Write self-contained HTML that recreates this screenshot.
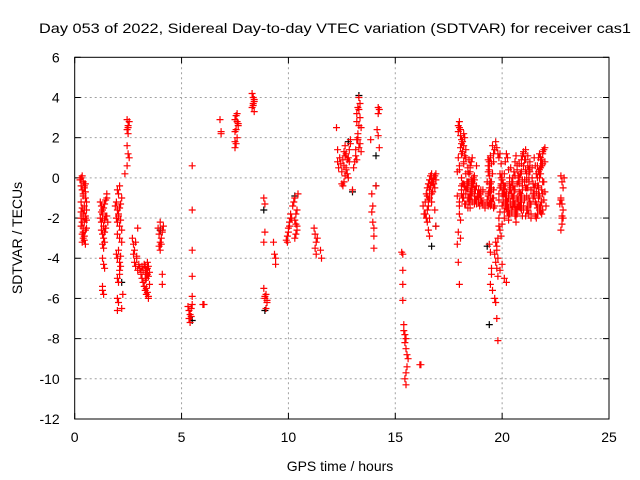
<!DOCTYPE html>
<html><head><meta charset="utf-8"><style>
html,body{margin:0;padding:0;background:#fff;}
svg{display:block;font-family:"Liberation Sans",sans-serif;}
</style></head><body>
<svg id="chart" width="640" height="480" viewBox="0 0 640 480">
<text x="335" y="33" font-size="14" text-anchor="middle" textLength="592" lengthAdjust="spacingAndGlyphs">Day 053 of 2022, Sidereal Day-to-day VTEC variation (SDTVAR) for receiver cas1</text>
<g id="grid"></g>
<g id="axes"></g>
<g id="blackpts"></g>
<g id="redpts"></g>
<rect x="74.7" y="57.3" width="534.3" height="361.7" fill="none" stroke="#000" stroke-width="1"/>
<text x="340" y="471" font-size="14" text-anchor="middle">GPS time / hours</text>
<text x="0" y="0" font-size="14" text-anchor="middle" transform="translate(22,238) rotate(-90)">SDTVAR / TECUs</text>
</svg>
<script>
const xTicks = [0, 5, 10, 15, 20, 25];
const yTicks = [6, 4, 2, 0, -2, -4, -6, -8, -10, -12];
const redX = [
0.25,0.3,0.35,0.4,0.45,0.3,0.35,0.4,0.45,0.5,0.3,0.35,0.4,0.45,0.5,0.55,0.3,0.35,0.4,0.5,0.55,0.3,0.4,0.45,0.5,0.35,0.4,0.45,0.5,0.55,0.35,0.45,0.5,0.3,0.4,0.45,0.55,0.5,0.45,0.4,
1.2,1.25,1.3,1.35,1.4,1.45,1.5,1.2,1.25,1.3,1.35,1.4,1.45,1.25,1.3,1.35,1.4,1.45,1.3,1.35,1.4,1.3,1.35,1.4,1.3,1.3,1.35,1.25,1.3,1.5,1.55,1.5,
1.9,1.95,2.0,2.05,2.1,2.15,2.2,1.95,2.0,2.05,2.1,2.15,2.0,2.05,2.1,2.0,2.1,2.2,2.2,1.95,2.0,2.05,2.1,2.15,2.1,2.0,2.05,2.1,2.15,2.0,2.05,2.2,2.25,2.0,
2.35,2.45,2.5,2.55,2.45,2.5,2.55,2.5,2.45,2.5,2.45,
2.7,2.75,2.8,2.85,2.9,2.75,2.8,2.85,2.9,2.95,3.0,3.05,3.1,3.15,3.2,3.25,3.3,3.35,3.4,3.45,3.1,3.15,3.2,3.25,3.3,3.35,3.2,3.3,3.35,3.4,3.3,3.35,3.4,3.45,3.4,3.45,3.5,3.45,3.5,2.95,
3.9,3.95,4.0,4.05,4.1,3.95,4.0,4.05,4.0,4.1,4.15,4.1,4.1,
5.3,5.35,5.4,5.45,5.5,5.35,5.4,5.45,5.5,5.5,5.5,5.5,5.5,6.0,6.05,
6.8,6.85,6.85,7.5,7.55,7.6,7.65,7.5,7.55,7.6,7.5,7.55,7.6,7.65,7.5,
8.3,8.35,8.4,8.3,8.35,8.4,8.35,8.4,
8.85,8.9,8.85,8.9,8.85,8.95,8.9,9.0,8.95,9.0,8.9,
9.3,9.35,9.4,9.4,
9.9,9.95,10.0,10.05,10.1,10.15,9.95,10.0,10.05,10.1,10.2,10.25,10.3,10.35,10.4,10.3,10.35,10.4,10.45,10.4,10.35,10.3,
11.2,11.25,11.3,11.25,11.3,11.35,11.5,11.55,
12.25,12.3,12.3,12.35,12.4,12.45,12.5,12.55,12.6,12.65,12.7,12.75,12.8,12.5,12.55,12.6,12.65,12.7,12.6,12.65,12.7,12.75,12.8,12.85,12.9,12.9,12.85,13.0,
13.1,13.15,13.2,13.25,13.3,13.35,13.4,13.2,13.25,13.3,13.35,13.25,13.3,13.35,13.4,13.2,13.25,13.3,13.15,13.2,13.05,
13.85,13.9,13.9,13.95,14.0,14.0,14.0,13.95,14.2,14.25,14.2,14.15,14.2,14.25,14.1,
15.3,15.35,15.35,15.35,15.35,15.4,15.4,15.45,15.5,15.5,15.55,15.6,15.55,15.5,15.45,15.5,15.45,16.15,16.2,
16.3,16.35,16.4,16.45,16.5,16.55,16.6,16.65,16.7,16.75,16.8,16.85,16.5,16.55,16.6,16.65,16.7,16.4,16.45,16.5,16.55,16.6,16.5,16.55,16.6,16.7,16.75,16.8,16.85,16.9,16.9,16.7,16.85,16.9,16.6,
17.9,17.95,18.0,18.05,18.1,18.15,18.2,17.95,18.0,18.05,18.1,18.15,17.9,17.95,18.0,18.05,18.1,18.2,18.25,18.3,18.35,18.4,18.45,18.5,18.55,18.2,18.25,18.3,18.35,18.4,18.45,18.5,18.55,18.6,18.65,18.7,18.75,18.8,18.85,18.9,18.95,19.0,19.05,19.1,18.1,18.15,18.3,18.4,18.6,18.7,18.8,18.9,19.0,18.0,18.2,18.5,18.7,19.2,
19.3,19.35,19.4,19.45,19.5,19.55,19.6,19.65,19.7,19.75,19.8,19.35,19.4,19.45,19.5,19.55,19.6,19.3,19.35,19.4,19.45,19.5,19.55,19.6,19.3,19.35,19.4,19.45,19.4,19.45,19.5,19.5,19.45,19.55,
19.65,19.7,19.75,19.8,19.85,19.9,19.7,19.75,19.8,19.85,19.65,19.7,19.75,19.8,19.9,19.95,19.75,19.8,
19.9,20.0,20.1,20.2,20.3,20.4,20.5,20.6,20.7,20.8,20.9,21.0,21.1,21.2,21.3,21.4,
19.9,20.0,20.1,20.2,20.3,20.4,20.5,20.6,20.7,20.8,20.9,21.0,21.1,21.2,21.3,21.4,
19.95,20.05,20.15,20.25,20.35,20.45,20.55,20.65,20.75,20.85,20.95,21.05,21.15,21.25,21.35,21.45,
19.95,20.05,20.15,20.25,20.35,20.45,20.55,20.65,20.75,20.85,20.95,21.05,21.15,21.25,21.35,21.45,
20.0,20.1,20.2,20.3,20.4,20.5,20.6,20.7,20.8,20.9,21.0,21.1,21.2,21.3,
20.05,20.15,20.3,20.45,20.6,20.75,20.9,21.05,21.2,21.35,20.6,20.65,20.7,20.2,20.3,20.0,20.1,
21.5,21.55,21.6,21.65,21.7,21.75,21.8,21.85,21.9,21.95,22.0,21.55,21.6,21.65,21.7,21.75,21.8,21.85,21.9,21.95,22.0,21.6,21.65,21.7,21.75,21.8,21.85,21.9,21.95,21.7,21.8,21.9,22.0,22.05,21.65,21.75,
22.7,22.75,22.8,22.85,22.9,22.75,22.8,22.85,22.75,22.8,22.85,22.8,22.8,22.75,
17.95,18.0,18.05,18.1,18.15,18.2,18.25,17.95,18.0,18.05,18.1,18.15,18.2,18.25,18.3,18.0,18.1,18.2,18.3,18.4,17.9,18.0,18.1,18.2,18.3,18.4,18.5,
18.35,18.4,18.45,18.5,18.55,18.4,18.45,18.5,18.55,18.6,18.45,18.5,18.55,18.6,18.65,18.7,18.75,18.8,18.85,18.9,18.95,19.0,19.1,18.6,18.7,18.8,18.9,19.0,19.1,19.2,
19.3,19.35,19.4,19.45,19.5,19.55,19.6,19.35,19.4,19.45,19.5,19.55,19.4,19.45,19.5,19.55,19.6,19.65,
19.85,19.9,19.95,20.0,20.05,20.1,20.15,20.2,20.25,20.3,20.35,20.4,20.45,20.5,20.55,20.6,20.65,20.7,20.75,20.8,20.85,20.9,20.95,21.0,21.05,21.1,21.15,21.2,21.25,21.3,
19.85,19.9,19.95,20.0,20.05,20.1,20.15,20.2,20.25,20.3,20.35,20.4,20.45,20.5,20.55,20.6,20.65,20.7,20.75,20.8,20.85,20.9,20.95,21.0,21.05,21.1,21.15,21.2,21.25,21.3,
19.85,19.95,20.05,20.15,20.25,20.35,20.45,20.55,20.65,20.75,20.85,20.95,21.05,21.15,21.25,21.35,
21.45,21.5,21.55,21.6,21.65,21.7,21.75,21.8,21.85,21.9,21.5,21.6,21.7,21.8,21.9,21.55,21.65,21.75,21.85
];
const redY = [
-0.1,0,0.1,-0.2,-0.3,-0.4,-0.6,-0.8,-0.5,-0.3,-1.2,-1.5,-1.8,-1.4,-1.0,-1.2,-2.0,-2.2,-2.5,-1.9,-1.6,-2.4,-2.7,-2.2,-2.0,-2.8,-3.0,-2.9,-2.6,-2.5,-3.2,-3.1,-3.3,-1.7,-1.9,-1.6,-2.1,-0.7,-0.4,-0.9,
-1.2,-1.4,-1.6,-1.5,-1.3,-1.1,-1.0,-2.0,-2.2,-2.0,-2.4,-2.1,-1.9,-2.6,-2.8,-3.0,-2.7,-2.5,-3.3,-3.5,-3.2,-4.0,-4.3,-4.5,-5.4,-5.6,-5.8,-1.7,-1.8,-1.9,-2.2,-0.8,
-1.4,-1.2,-1.6,-1.8,-1.5,-1.3,-1.0,-2.0,-2.2,-1.9,-2.4,-2.1,-0.6,-0.8,-0.4,-2.8,-3.0,-2.6,-3.2,-3.8,-4.0,-3.6,-4.2,-3.9,-4.6,-5.0,-5.2,-4.8,-4.4,-6.0,-6.2,-6.5,-5.8,-6.6,
0.2,1.6,1.2,1.0,2.4,2.6,2.8,2.2,2.9,2.5,0.6,
-3.0,-3.3,-3.6,-3.2,-4.0,-3.8,-4.2,-4.4,-3.9,-4.6,-4.3,-4.5,-4.7,-4.4,-4.6,-4.3,-4.8,-5.0,-4.5,-4.9,-4.8,-5.0,-5.2,-5.4,-5.1,-5.5,-4.6,-4.4,-4.6,-4.8,-5.6,-5.8,-5.7,-5.9,-4.2,-4.4,-4.7,-6.0,-5.3,-2.5,
-2.5,-2.8,-3.2,-3.0,-2.6,-3.4,-3.6,-3.3,-2.2,-2.7,-2.4,-4.8,-5.3,
-6.4,-6.6,-6.8,-6.5,-6.3,-7.0,-7.2,-6.9,0.6,-1.6,-3.6,-4.9,-5.9,-6.3,-6.3,
2.9,2.3,2.2,2.9,3.1,2.8,2.6,2.3,2.4,2.0,1.5,1.7,3.2,2.7,1.8,
4.2,4.0,3.8,3.5,3.6,3.3,3.7,3.9,
-1.0,-1.3,-3.2,-2.7,-5.5,-5.8,-6.0,-6.2,-6.5,-6.1,-5.9,
-3.2,-3.8,-4.3,-4.0,
-3.1,-2.9,-2.5,-2.2,-1.8,-2.0,-3.2,-2.7,-2.4,-2.0,-1.4,-1.2,-1.0,-2.3,-2.6,-2.1,-1.8,-2.4,-0.8,-1.6,-2.8,-3.0,
-2.5,-2.8,-3.2,-3.5,-3.8,-3.0,-3.6,-4.0,
2.5,1.4,0.8,0.5,1.0,0.7,0.3,0.9,0.6,1.1,0.4,0.2,0.0,-0.3,-0.4,-0.2,0.1,0.5,1.3,1.6,1.2,0.9,1.0,1.4,1.7,1.9,0.8,-0.6,
0.8,1.4,1.9,2.2,2.6,3.0,2.5,3.2,3.5,3.4,3.7,2.0,1.5,1.7,1.3,2.8,1.9,4.0,1.1,0.9,0.5,
1.9,-0.8,-1.7,-2.2,-2.5,-2.9,-3.5,-1.4,3.2,3.4,3.5,2.4,2.1,1.5,-0.4,
-3.7,-3.8,-4.6,-5.3,-6.1,-7.3,-7.6,-7.8,-8.0,-8.5,-8.8,-9.0,-9.4,-9.7,-10.0,-10.3,-8.2,-9.3,-9.3,
-1.4,-1.8,-1.2,-0.8,-0.5,-0.3,-0.1,0.1,0.2,-0.2,0.0,0.1,-0.9,-1.1,-0.6,-0.4,-0.2,-1.8,-2.0,-1.6,-1.4,-1.0,-2.2,-2.6,-2.9,-1.2,-0.7,-0.3,-0.5,-0.1,0.2,-0.8,-1.6,-2.4,-2.0,-3.3,-4.2,-5.3,-3.0,
1.2,1.8,2.2,2.6,2.8,2.4,1.9,-0.3,0.3,1.0,0.6,1.5,-0.6,-1.0,-1.3,-0.8,-0.5,-0.2,0.2,0.5,-0.5,-1.0,-0.4,-0.6,-0.2,-1.0,-1.2,-1.5,-0.9,-0.7,-0.3,-0.1,-0.6,-0.4,-0.8,-1.2,-1.4,-1.0,-1.2,-0.6,-0.4,-1.0,-1.3,-1.5,-0.2,0.1,0.6,-0.9,-1.1,-1.4,-0.8,-1.1,-1.3,-1.5,-1.1,-1.4,-0.7,-1.4,
-0.5,0.2,0.8,1.4,1.8,1.5,1.2,0.6,0.1,-0.3,-0.6,-1.0,-0.6,-0.2,0.3,0.8,1.0,-1.3,-1.0,-1.5,-1.2,-0.8,-0.5,-0.2,-3.3,-3.7,-4.5,-4.8,-5.3,-5.6,-6.0,-6.2,-7.0,-8.1,
-2.0,-2.6,-3.2,-3.6,-3.0,-2.4,-3.8,-4.2,-4.5,-4.9,-1.7,-2.9,-3.4,-4.0,-4.6,-4.3,-5.0,-5.2,
-1.0,-0.6,-0.2,0.1,0.4,0.7,0.9,1.2,1.4,1.1,0.8,0.5,0.2,-0.1,-0.4,-0.7,
-1.5,-1.2,-1.0,-0.6,-0.3,0.0,0.3,0.6,0.9,0.6,0.3,0.0,-0.3,-0.6,-0.9,-1.2,
-0.3,-0.8,-1.3,-1.6,-1.2,-0.8,-0.4,-0.1,-0.5,-1.0,-1.3,-0.8,-0.4,-0.9,-1.3,-1.6,
-1.8,-1.6,-1.2,-1.8,-1.4,-1.0,-0.6,-0.2,0.2,-0.2,-0.6,-1.0,-1.4,-1.7,-1.5,-1.9,
0.5,0.0,-0.6,-1.0,-1.4,-1.2,-1.6,-1.9,-1.6,-1.2,-0.8,-1.2,-0.9,-0.2,
-1.9,-1.3,-0.9,-1.1,-1.5,-2.0,-1.7,-2.2,-1.8,-1.3,-2.1,-2.3,-2.0,1.0,0.6,-2.0,-1.5,
-0.4,-0.9,-1.4,-1.8,-1.6,-1.1,-0.7,-0.3,0.2,0.6,1.0,0.0,0.5,0.9,1.3,1.4,0.8,0.2,-0.4,-1.0,-1.5,-1.7,-1.2,-0.8,-0.2,0.3,0.9,1.2,1.5,-1.4,-1.8,-1.6,-1.3,-1.1,-1.9,-2.0,
0.0,0.1,-0.2,-0.5,-1.0,-1.3,-1.6,-2.0,-2.3,-2.6,-2.7,-1.8,-2.1,-0.8,-0.3,
1.6,2.0,2.3,2.5,2.1,1.7,1.3,0.8,1.1,1.4,0.4,0.0,0.7,1.0,0.5,-0.9,-1.2,-0.6,-0.3,0.2,-0.4,-0.7,-0.3,0.3,0.9,0.6,-0.1,
-0.5,-0.2,0.3,0.8,1.0,-1.0,-1.2,-0.8,-0.4,0.0,-0.6,-1.1,-1.3,-0.9,-0.6,-0.8,-1.0,-0.7,-1.2,-0.9,-1.1,-0.8,-0.6,-1.3,-1.4,-1.2,-0.9,-1.3,-1.0,-1.2,
1.6,1.2,0.9,0.4,1.1,0.7,0.2,-0.3,-0.7,-0.2,0.2,-1.0,-1.4,-1.1,-0.5,0.0,-0.8,-1.2,
0.2,0.8,1.2,1.0,0.4,0.0,-0.5,-0.9,-0.4,0.3,0.8,1.1,0.6,0.1,-0.3,0.2,0.7,1.1,1.3,0.9,0.4,-0.1,-0.5,0.0,0.5,1.0,1.2,0.7,0.2,-0.3,
-0.8,-0.4,-1.1,-1.5,-1.0,-0.6,-1.3,-1.7,-1.4,-0.9,-1.3,-1.8,-1.5,-1.1,-0.7,-1.2,-1.6,-1.9,-1.4,-1.0,-0.5,-0.9,-1.4,-1.8,-1.3,-0.8,-0.4,-0.9,-1.4,-1.7,
-0.2,-1.7,-0.6,-1.9,-0.2,-1.5,-0.1,-1.1,-1.6,0.4,-1.8,-0.3,-0.5,-1.9,-0.7,-1.5,
-0.8,0.4,1.0,0.6,-0.2,-0.9,-1.3,-0.5,0.2,0.7,-1.2,0.0,1.2,-0.6,-1.5,0.9,-0.9,0.3,-1.1
];
const blackX = [2.2,4.0,5.5,8.85,8.9,10.3,12.8,13.0,13.3,14.1,14.1,16.7,16.9,19.3,19.4];
const blackY = [-5.2,-2.6,-7.1,-1.6,-6.6,-0.9,1.8,-0.7,4.1,1.1,-0.4,-3.4,-2.4,-3.4,-7.3];

const L=74.7,R=609,T=57.3,B=419;
const xScale=v=>L+(v-0)/(25-0)*(R-L);
const yScale=v=>B-(v-(-12))/(6-(-12))*(B-T);
const NS='http://www.w3.org/2000/svg';
const grid=document.getElementById('grid'), axes=document.getElementById('axes');
function mk(tag,attrs,parent){const e=document.createElementNS(NS,tag);for(const k in attrs)e.setAttribute(k,attrs[k]);parent.appendChild(e);return e;}
xTicks.forEach(t=>{
  const x=xScale(t);
  if(t>0&&t<25){
    const g=mk('line',{x1:x,x2:x,y1:T,y2:B,stroke:'#a0a0a0','stroke-dasharray':'2,3','stroke-width':1},grid);
    
    
  }
  const tk=mk('line',{x1:x,x2:x,y1:B,y2:B-6,stroke:'#000'},axes);
  
  
  const tk2=mk('line',{x1:x,x2:x,y1:T,y2:T+6,stroke:'#000'},axes);
  
  
  const lb=mk('text',{x:x,y:B+23,'font-size':14,'text-anchor':'middle'},axes);
  lb.textContent=t;
  
  
});
yTicks.forEach(t=>{
  const y=yScale(t);
  if(t>-12&&t<6){
    const g=mk('line',{x1:L,x2:R,y1:y,y2:y,stroke:'#a0a0a0','stroke-dasharray':'2,3','stroke-width':1},grid);
    
    
  }
  const tk=mk('line',{x1:L,x2:L+6,y1:y,y2:y,stroke:'#000'},axes);
  
  
  const tk2=mk('line',{x1:R,x2:R-6,y1:y,y2:y,stroke:'#000'},axes);
  
  
  const lb=mk('text',{x:L-15,y:y+5,'font-size':14,'text-anchor':'end'},axes);
  lb.textContent=t;
  
  
});
function plus(xs,ys,color,parent,name){
  let d='';
  for(let i=0;i<xs.length;i++){
    const x=xScale(xs[i]),y=yScale(ys[i]);
    d+=`M${(x-3.5).toFixed(1)} ${y.toFixed(1)}h7M${x.toFixed(1)} ${(y-3.5).toFixed(1)}v7`;
  }
  const p=mk('path',{d:d,stroke:color,'stroke-width':1.2,fill:'none'},parent);
  
  
}
plus(blackX,blackY,'#000',document.getElementById('blackpts'),'black-points');
plus(redX,redY,'#ff0000',document.getElementById('redpts'),'red-points');
</script>
</body></html>
